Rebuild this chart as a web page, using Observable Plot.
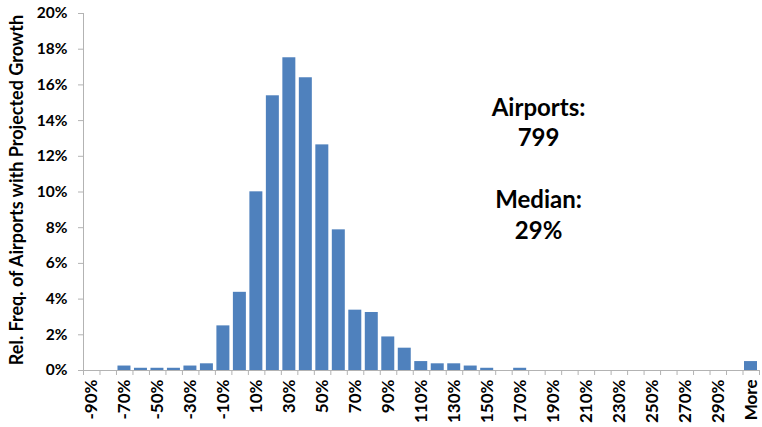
<!DOCTYPE html>
<html><head><meta charset="utf-8">
<script src="https://cdn.jsdelivr.net/npm/d3@7"></script>
<script src="https://cdn.jsdelivr.net/npm/@observablehq/plot@0.6"></script>
<style>
body{margin:0;background:#fff}
#chart svg{font-family:Lato,"Open Sans",sans-serif;}
</style>
</head><body><div id="chart"></div>
<script>
const categories = ["-90%","-80%","-70%","-60%","-50%","-40%","-30%","-20%","-10%","0%",
  "10%","20%","30%","40%","50%","60%","70%","80%","90%","100%",
  "110%","120%","130%","140%","150%","160%","170%","180%","190%","200%",
  "210%","220%","230%","240%","250%","260%","270%","280%","290%","300%","More"];
// relative frequency, percent
const relFreq = [0,0,0.25,0.125,0.125,0.125,0.25,0.375,2.50,4.38,
  10.01,15.39,17.52,16.40,12.64,7.88,3.38,3.25,1.88,1.25,
  0.50,0.375,0.375,0.25,0.125,0,0.125,0,0,0,
  0,0,0,0,0,0,0,0,0,0,0.50];
const yTicks = [0,2,4,6,8,10,12,14,16,18,20];
const yLabel = "Rel. Freq. of Airports with Projected Growth";
const annotationLines = ["Airports:","799","","Median:","29%"];

const data = categories.map((c,i)=>({i, c, v: relFreq[i]/100}));
const n = categories.length;
const gray = "#b3b3b3";

const chart = Plot.plot({
  width: 762, height: 427,
  marginLeft: 83, marginRight: 3, marginTop: 13, marginBottom: 57,
  style: {fontSize: "15.5px", fontWeight: "bold", color: "black", background: "white"},
  x: {type: "linear", domain: [0, n]},
  y: {domain: [0, 0.2]},
  marks: [
    Plot.rectY(data, {x1: "i", x2: d => d.i + 1, y: "v", fill: "#4f81bd", insetLeft: 1.5, insetRight: 2}),
    Plot.ruleY([0], {stroke: gray}),
    Plot.ruleX([0], {stroke: gray}),
    Plot.axisY({ticks: yTicks.map(t => t/100), tickFormat: d3.format(".0%"), tickSize: 5, tickPadding: 11, stroke: gray, fill: "black", label: null}),
    Plot.axisX({ticks: d3.range(0, n + 1), tickFormat: () => "", tickSize: 5, stroke: gray, label: null}),
    Plot.axisX({ticks: categories.map((c,i) => i + 0.5).filter((_, i) => i % 2 === 0),
      tickFormat: t => categories[Math.floor(t)], tickRotate: -90, tickSize: 0, tickPadding: 9, fill: "black", fontSize: 17, label: null}),
    Plot.text([yLabel], {text: d => d, frameAnchor: "left", textAnchor: "middle", rotate: -90, dx: -66, dy: -2, fontSize: 18, fontWeight: "bold", fill: "black"}),
    Plot.text([annotationLines.join("\n")], {text: d => d, x: 27.6, y: 0.1137, lineHeight: 1.29, fontSize: 24, fontWeight: "bold", fill: "black"})
  ]
});
document.getElementById("chart").append(chart);
</script>
</body></html>
